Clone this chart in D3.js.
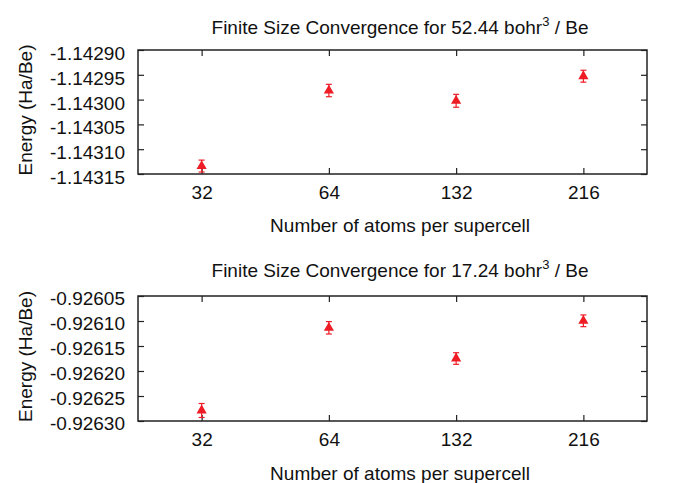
<!DOCTYPE html>
<html>
<head>
<meta charset="utf-8">
<script src="https://cdn.jsdelivr.net/npm/d3@7"></script>
<style>
  body { margin: 0; background: #fff; }
  text { font-family: "Liberation Sans", Arial, sans-serif; fill: #111; }
</style>
</head>
<body>
<div id="chart"></div>
<script>
// atoms per supercell (categories on the x axis)
const sizes = ["32", "64", "132", "216"];

// 52.44 bohr^3 / Be
const energyLow = [-1.143134, -1.1429817, -1.1430024, -1.1429528];
const errorLow = [0.000012, 0.0000125, 0.000013, 0.000012];
const ticksLow = [-1.14290, -1.14295, -1.14300, -1.14305, -1.14310, -1.14315];

// 17.24 bohr^3 / Be
const energyHigh = [-0.926279, -0.9261136, -0.926175, -0.9260996];
const errorHigh = [0.000014, 0.0000124, 0.0000116, 0.0000117];
const ticksHigh = [-0.92605, -0.92610, -0.92615, -0.92620, -0.92625, -0.92630];

const width = 673, height = 483;
const left = 138, right = 647;
const fontSize = 19;
const red = "#ee1c25";

const panels = [
  { density: "52.44", energy: energyLow, error: errorLow, ticks: ticksLow,
    top: 50, bottom: 174, titleY: 34, labelY: 232, tickDy: "0.5em" },
  { density: "17.24", energy: energyHigh, error: errorHigh, ticks: ticksHigh,
    top: 296, bottom: 421, titleY: 277, labelY: 480, tickDy: "0.45em" },
];

const svg = d3.select("#chart")
  .append("svg")
  .attr("width", width)
  .attr("height", height);

const x = d3.scalePoint()
  .domain(sizes)
  .range([left, right])
  .padding(0.5);

const textCenter = 400;

panels.forEach((p, k) => {
  const y = d3.scaleLinear()
    .domain([p.ticks[p.ticks.length - 1], p.ticks[0]])
    .range([p.bottom, p.top]);

  const g = svg.append("g");

  // title with superscript
  const title = g.append("text")
    .attr("x", textCenter)
    .attr("y", p.titleY)
    .attr("text-anchor", "middle")
    .style("font-size", fontSize + "px");
  title.append("tspan").text(`Finite Size Convergence for ${p.density} bohr`);
  title.append("tspan").attr("dy", -8).style("font-size", "13px").text("3");
  title.append("tspan").attr("dy", 8).text(" / Be");

  // frame
  g.append("rect")
    .attr("x", left)
    .attr("y", p.top)
    .attr("width", right - left)
    .attr("height", p.bottom - p.top)
    .attr("fill", "none")
    .attr("stroke", "#222")
    .attr("stroke-width", 1.5);

  // y axis, ticks pointing in
  const yAxis = g.append("g")
    .attr("transform", `translate(${left},0)`)
    .call(d3.axisLeft(y).tickValues(p.ticks).tickSize(-6).tickPadding(13).tickFormat(d3.format(".5f")));
  const yAxisR = g.append("g")
    .attr("transform", `translate(${right},0)`)
    .call(d3.axisRight(y).tickValues(p.ticks).tickSize(-6).tickFormat(""));

  // x axis, ticks pointing in on bottom and top
  const xAxis = g.append("g")
    .attr("transform", `translate(0,${p.bottom})`)
    .call(d3.axisBottom(x).tickSize(-6).tickPadding(12));
  const xAxisT = g.append("g")
    .attr("transform", `translate(0,${p.top})`)
    .call(d3.axisTop(x).tickSize(-6).tickFormat(""));

  [yAxis, yAxisR, xAxis, xAxisT].forEach(a => {
    a.select(".domain").remove();
    a.selectAll(".tick line").attr("stroke", "#222").attr("stroke-width", 1.2);
    a.selectAll("text").style("font-size", fontSize + "px").attr("fill", "#111")
      .style("font-family", "'Liberation Sans', Arial, sans-serif");
  });
  yAxis.selectAll("text")
    .attr("dy", p.tickDy)
    .text(d => d3.format(".5f")(d).replace("−", "-"));

  // axis labels
  g.append("text")
    .attr("x", textCenter)
    .attr("y", p.labelY)
    .attr("text-anchor", "middle")
    .style("font-size", fontSize + "px")
    .text("Number of atoms per supercell");

  g.append("text")
    .attr("transform", `translate(32,${(p.top + p.bottom) / 2 - 2}) rotate(-90)`)
    .attr("text-anchor", "middle")
    .style("font-size", fontSize + "px")
    .text("Energy (Ha/Be)");

  // clip the error bars to the frame
  const clipId = `clip${k}`;
  g.append("clipPath").attr("id", clipId)
    .append("rect")
    .attr("x", left).attr("y", p.top)
    .attr("width", right - left).attr("height", p.bottom - p.top);

  const pts = sizes.map((s, i) => ({ s, v: p.energy[i], e: p.error[i] }));
  const marks = g.append("g").attr("clip-path", `url(#${clipId})`);

  const bars = marks.selectAll(".err")
    .data(pts)
    .enter()
    .append("g")
    .attr("class", "err")
    .attr("stroke", red)
    .attr("stroke-width", 1.2);
  bars.append("line")
    .attr("x1", d => x(d.s)).attr("x2", d => x(d.s))
    .attr("y1", d => y(d.v + d.e)).attr("y2", d => y(d.v - d.e));
  bars.append("line")
    .attr("x1", d => x(d.s) - 3).attr("x2", d => x(d.s) + 3)
    .attr("y1", d => y(d.v + d.e)).attr("y2", d => y(d.v + d.e));
  bars.append("line")
    .attr("x1", d => x(d.s) - 3).attr("x2", d => x(d.s) + 3)
    .attr("y1", d => y(d.v - d.e)).attr("y2", d => y(d.v - d.e));

  marks.selectAll(".pt")
    .data(pts)
    .enter()
    .append("path")
    .attr("class", "pt")
    .attr("d", d3.symbol(d3.symbolTriangle, 45))
    .attr("transform", d => `translate(${x(d.s)},${y(d.v)})`)
    .attr("fill", red);
});
</script>
</body>
</html>
